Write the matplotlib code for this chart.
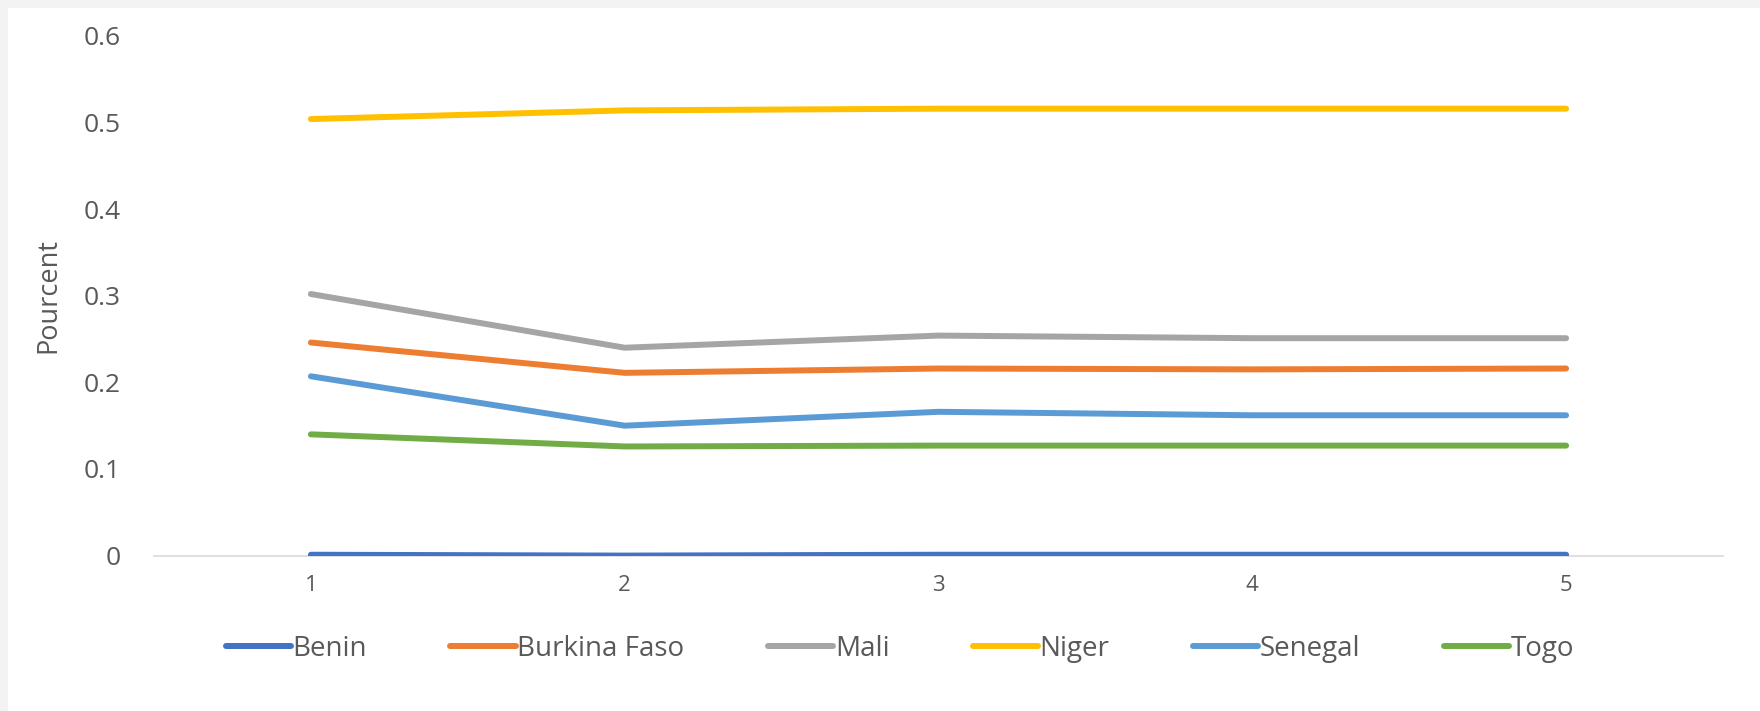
import matplotlib.pyplot as plt
from matplotlib.patches import Rectangle
from matplotlib.ticker import FuncFormatter

periods = [1, 2, 3, 4, 5]
benin = [0.001, 0.0, 0.001, 0.001, 0.001]
burkina_faso = [0.246, 0.211, 0.216, 0.215, 0.216]
mali = [0.302, 0.240, 0.254, 0.251, 0.251]
niger = [0.504, 0.514, 0.516, 0.516, 0.516]
senegal = [0.207, 0.150, 0.166, 0.162, 0.162]
togo = [0.140, 0.126, 0.127, 0.127, 0.127]

series = [
    ("Benin", benin, "#4472C4"),
    ("Burkina Faso", burkina_faso, "#ED7D31"),
    ("Mali", mali, "#A5A5A5"),
    ("Niger", niger, "#FFC000"),
    ("Senegal", senegal, "#5B9BD5"),
    ("Togo", togo, "#70AD47"),
]

plt.rcParams['font.family'] = ['Open Sans', 'DejaVu Sans']
text_color = '#595959'

W, H = 1760, 711
fig = plt.figure(figsize=(W / 100, H / 100), dpi=100, facecolor='#F3F3F3')
# white chart area, thin grey strip on the top and left edges
fig.patches.append(Rectangle((8 / W, 0), 1, 1 - 8 / H, transform=fig.transFigure,
                             facecolor='white', edgecolor='none', zorder=-10))

ax = fig.add_axes([154 / W, 1 - 555.6 / H, (1723 - 154) / W, (555.6 - 35.9) / H])
ax.set_facecolor('none')
ax.set_zorder(5)

for name, vals, color in series:
    ax.plot(periods, vals, color=color, lw=4.3, solid_capstyle='round',
            solid_joinstyle='round', label=name, zorder=3)

ax.set_xlim(0.5, 5.5)
ax.set_ylim(0, 0.6)
ax.set_xticks(periods)
ax.set_yticks([0, 0.1, 0.2, 0.3, 0.4, 0.5, 0.6])
ax.yaxis.set_major_formatter(FuncFormatter(lambda v, p: '0' if v == 0 else f'{v:.1f}'))

for s in ['top', 'right', 'left']:
    ax.spines[s].set_visible(False)
ax.spines['bottom'].set_color('#D9D9D9')
ax.spines['bottom'].set_linewidth(1.2)
ax.spines['bottom'].set_zorder(1)

ax.tick_params(axis='y', length=0, pad=24, labelsize=19, labelcolor=text_color)
ax.tick_params(axis='x', length=0, pad=14, labelsize=16, labelcolor=text_color)

ax.set_ylabel('Pourcent', fontsize=19.5, color=text_color, labelpad=15)

ax.legend(loc='center', bbox_to_anchor=((900 - 154) / (1723 - 154),
                                         (555.6 - 649) / (555.6 - 35.9)),
          ncol=6, frameon=False, fontsize=20, labelcolor=text_color,
          handlelength=2.35, handletextpad=0.06, columnspacing=3.0)

fig.savefig('out.png', dpi=100, facecolor=fig.get_facecolor())
